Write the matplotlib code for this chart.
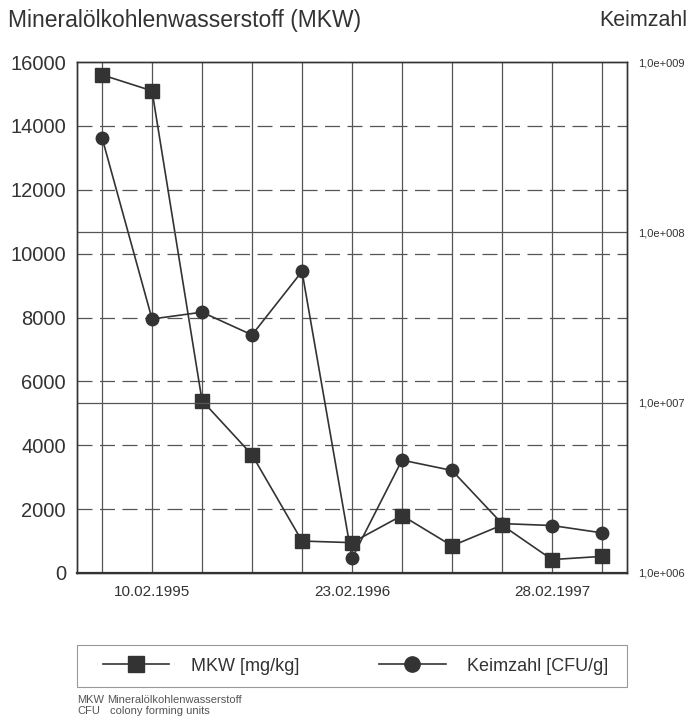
import numpy as np
import matplotlib
matplotlib.use("Agg")
import matplotlib.pyplot as plt
from matplotlib.lines import Line2D
from matplotlib.patches import Rectangle

plt.rcParams['font.family'] = ['Liberation Sans', 'DejaVu Sans']

# sampling index (11 campaigns), only three dates labelled
idx = list(range(11))
date_labels = ['', '10.02.1995', '', '', '', '23.02.1996', '', '', '', '28.02.1997', '']

# MKW [mg/kg] (left axis)
mkw = [15600, 15100, 5400, 3700, 1000, 950, 1800, 850, 1500, 420, 520]
# Keimzahl [CFU/g] (right axis, log)
keim = [3.6e8, 3.1e7, 3.4e7, 2.5e7, 5.9e7, 1.22e6, 4.6e6, 4.0e6, 1.95e6, 1.9e6, 1.72e6]

left_ticks = [0, 2000, 4000, 6000, 8000, 10000, 12000, 14000, 16000]
right_ticks = [1e6, 1e7, 1e8, 1e9]
right_labels = ['1,0e+006', '1,0e+007', '1,0e+008', '1,0e+009']

dark = '#333333'
gridc = '#555555'

fig = plt.figure(figsize=(6.89, 7.22), dpi=100)
ax = fig.add_axes([0.1118, 0.2064, 0.7982, 0.7076])
ax2 = ax.twinx()

ax.set_xlim(-0.5, 10.5)
ax.set_ylim(0, 16000)
ax2.set_yscale('log')
ax2.set_ylim(1e6, 1e9)

# grids
ax.set_xticks(idx)
ax.set_xticklabels(date_labels, fontsize=11, color=dark)
ax.tick_params(axis='x', length=0, pad=9)
ax.grid(axis='x', color=gridc, lw=0.9)
ax.set_yticks(left_ticks)
ax.set_yticklabels([str(t) for t in left_ticks], fontsize=14.5, color=dark)
ax.tick_params(axis='y', length=0, pad=8)
for t in left_ticks[1:-1]:
    ax.axhline(t, color=gridc, lw=0.9, dashes=(12, 6))

ax2.set_yticks(right_ticks)
ax2.set_yticklabels(right_labels, fontsize=8, color=dark)
ax2.minorticks_off()
ax2.tick_params(axis='y', length=0, pad=8)
for t in right_ticks[1:-1]:
    ax2.axhline(t, color=gridc, lw=0.9)

ax.set_axisbelow(True)
for a in (ax, ax2):
    for s in a.spines.values():
        s.set_color(dark)
        s.set_linewidth(1.0)
ax.spines['bottom'].set_linewidth(1.6)

ax.plot(idx, mkw, color=dark, lw=1.2, marker='s', ms=9.5, zorder=5)
ax2.plot(idx, keim, color=dark, lw=1.2, marker='o', ms=9, zorder=5)

fig.text(0.012, 0.971, 'Mineralölkohlenwasserstoff (MKW)', fontsize=16.5, color=dark, va='center')
fig.text(0.998, 0.971, 'Keimzahl', fontsize=15.5, color=dark, va='center', ha='right')

# legend frame spanning the plot width
fig.patches.append(Rectangle((0.1118, 0.0485), 0.7982, 0.058, transform=fig.transFigure,
                             fill=False, edgecolor='#999999', lw=0.8))
handles = [Line2D([], [], color=dark, lw=1.2, marker='s', ms=11),
           Line2D([], [], color=dark, lw=1.2, marker='o', ms=11)]
leg = fig.legend(handles, ['MKW [mg/kg]', 'Keimzahl [CFU/g]'], ncol=2,
                 loc='center', bbox_to_anchor=(0.516, 0.0775), frameon=False,
                 fontsize=13, handlelength=3.7, columnspacing=4.4,
                 handletextpad=1.2, borderpad=0.0, borderaxespad=0)
for txt in leg.get_texts():
    txt.set_color(dark)

fig.text(0.112, 0.031, 'MKW', fontsize=8, color='#555555', va='center')
fig.text(0.155, 0.031, 'Mineralölkohlenwasserstoff', fontsize=8, color='#555555', va='center')
fig.text(0.112, 0.015, 'CFU', fontsize=8, color='#555555', va='center')
fig.text(0.160, 0.015, 'colony forming units', fontsize=8, color='#555555', va='center')

fig.savefig('out.png', dpi=100)
